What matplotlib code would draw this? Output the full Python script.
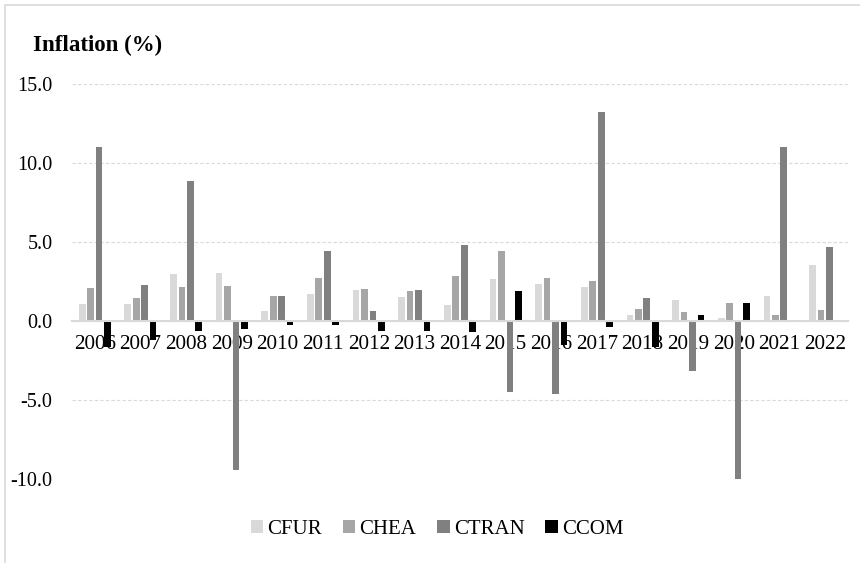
import matplotlib
matplotlib.use("Agg")
import matplotlib.pyplot as plt
import numpy as np
from matplotlib.patches import Rectangle

plt.rcParams['font.family'] = ['Liberation Serif', 'DejaVu Serif']

years = ['2006', '2007', '2008', '2009', '2010', '2011', '2012', '2013', '2014',
         '2015', '2016', '2017', '2018', '2019', '2020', '2021', '2022']
series_names = ['CFUR', 'CHEA', 'CTRAN', 'CCOM']
cfur = [1.08, 1.06, 2.97, 3.03, 0.66, 1.74, 1.95, 1.55, 1.02, 2.65, 2.33, 2.14, 0.36, 1.36, 0.17, 1.59, 3.54]
chea = [2.12, 1.48, 2.18, 2.20, 1.59, 2.71, 2.01, 1.89, 2.86, 4.41, 2.71, 2.52, 0.74, 0.59, 1.14, 0.40, 0.68]
ctran = [11.0, 2.29, 8.88, -9.43, 1.59, 4.41, 0.66, 1.95, 4.79, -4.50, -4.60, 13.2, 1.46, -3.14, -10.0, 11.0, 4.68]
ccom = [-1.67, -1.21, -0.62, -0.51, -0.25, -0.27, -0.64, -0.64, -0.70, 1.93, -1.53, -0.36, -1.63, 0.36, 1.12, 0.0, 0.0]
y_ticks = [-10.0, -5.0, 0.0, 5.0, 10.0, 15.0]

colors = ['#d9d9d9', '#a6a6a6', '#808080', '#000000']
W, H = 860, 563
fig = plt.figure(figsize=(W / 100, H / 100), dpi=100)

# light outer frame of the chart
fig.add_artist(Rectangle((4.5 / W, -0.1), 1.2, 1 - 5.5 / H + 0.1,
                         transform=fig.transFigure, fill=False,
                         edgecolor='#d9d9d9', linewidth=1.2))

ax = fig.add_axes([72 / W, 1 - 479 / H, (848 - 72) / W, (479 - 84) / H])

x = np.arange(len(years))
pitch = 0.185
width = 0.147
for i, (vals, name) in enumerate(zip([cfur, chea, ctran, ccom], series_names)):
    ax.bar(x + (i - 1.5) * pitch, vals, width, color=colors[i], label=name, zorder=3)

ax.set_xlim(-0.5, len(years) - 0.5)
ax.set_ylim(-10, 15)
ax.set_yticks(y_ticks)
ax.set_yticklabels([f'{v:.1f}' for v in y_ticks])
ax.set_xticks(x)
ax.set_xticklabels(years)
ax.set_axisbelow(True)
ax.yaxis.grid(True, color='#d9d9d9', linestyle=(0, (3, 2)), linewidth=0.8)
ax.tick_params(axis='both', length=0)
ax.tick_params(axis='y', pad=14, labelsize=14.5)
ax.tick_params(axis='x', pad=10, labelsize=15.2)

for s in ['top', 'right', 'left']:
    ax.spines[s].set_visible(False)
ax.spines['bottom'].set_position(('data', 0))
ax.spines['bottom'].set_color('#d9d9d9')
ax.spines['bottom'].set_linewidth(1.5)
ax.spines['bottom'].set_zorder(4)

fig.text(33 / W, 1 - 45 / H, 'Inflation (%)', fontsize=16.5, fontweight='bold',
         ha='left', va='center')

fig.legend(loc='center', bbox_to_anchor=(437 / W, 1 - 529 / H), ncol=4,
           frameon=False, fontsize=15, handlelength=0.6, handleheight=0.6,
           handletextpad=0.2, columnspacing=1.0)

fig.savefig('out.png', dpi=100)
